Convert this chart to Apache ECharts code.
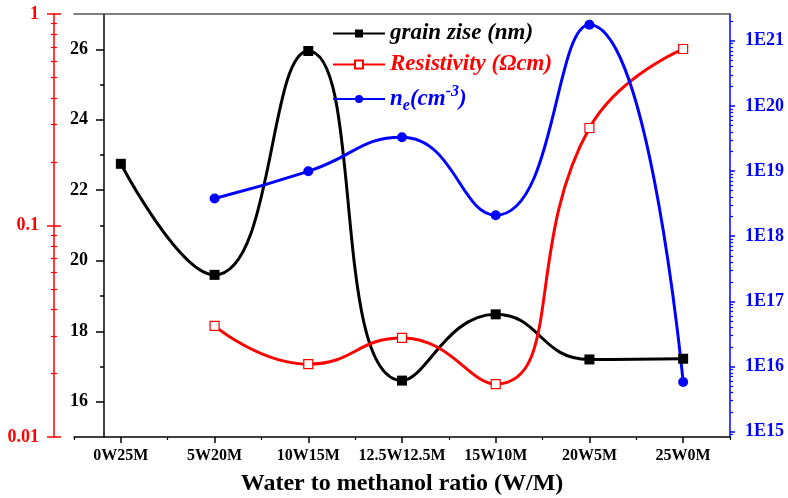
<!DOCTYPE html>
<html><head><meta charset="utf-8">
<script src="https://cdn.jsdelivr.net/npm/echarts@6/dist/echarts.min.js"></script>
<style>html,body{margin:0;padding:0;background:#fff}#c{width:788px;height:498px}</style>
</head><body><div id="c"></div>
<script>
const categories = ['0W25M','5W20M','10W15M','12.5W12.5M','15W10M','20W5M','25W0M'];
const grainSize = [22.75, 19.6, 25.95, 16.6, 18.48, 17.2, 17.22];
const resistivity = [null, 0.0335, 0.0221, 0.0294, 0.0178, 0.289, 0.683];
const carrierDensity = [null, 3.8e18, 9.9e18, 3.3e19, 2.1e18, 1.76e21, 5.8e15];
const grainTicks = [16, 18, 20, 22, 24, 26];
const grainMinorTicks = [17, 19, 21, 23, 25];
const resistivityTicks = [0.01, 0.1, 1];
const resistivityLabels = ['0.01', '0.1', '1'];
const densityTicks = [1e15, 1e16, 1e17, 1e18, 1e19, 1e20, 1e21];
const densityLabels = ['1E15', '1E16', '1E17', '1E18', '1E19', '1E20', '1E21'];
const seriesNames = ['grain zise (nm)', 'Resistivity (\u03A9cm)', 'ne'];

const F = "'Liberation Serif','Times New Roman',serif";
const densityMin = 8.3e14, densityMax = 2.57e21;
function minorOf(decades, lo, hi) {
  const out = [];
  decades.forEach(d => { for (let k = 2; k <= 9; k++) { const v = k * d; if (v > lo * 1.0001 && v < hi * 0.9999) out.push(v); } });
  return out;
}
const densityMinor = minorOf([1e14].concat(densityTicks), densityMin, densityMax);
const resistivityMinor = minorOf(resistivityTicks, 0.01, 1);

const chart = echarts.init(document.getElementById('c'), null, {renderer: 'canvas'});
const lab = {fontFamily: F, fontWeight: 'bold', fontSize: 18};
const LI = {fontFamily: F, fontWeight: 'bold', fontStyle: 'italic'};
function helperY(type, pos, offset, min, max, inside, len, values, color, width) {
  return {type: type, position: pos, offset: offset, min: min, max: max,
    axisLine: {show: false},
    axisTick: {show: true, inside: inside, length: len, customValues: values, lineStyle: {color: color, width: width}},
    axisLabel: {show: false}, splitLine: {show: false}};
}
chart.setOption({
  animation: false,
  backgroundColor: '#fff',
  grid: {left: 74, right: 58, top: 14, bottom: 61, containLabel: false, outerBoundsMode: 'none'},
  legend: {
    orient: 'vertical', left: 327, top: 17, itemWidth: 52, itemHeight: 10, itemGap: 8,
    data: seriesNames,
    formatter: function (name) {
      if (name === seriesNames[0]) return '{k|' + name + '}';
      if (name === seriesNames[1]) return '{r|' + name + '}';
      return '{b|n}{bs|e}{b|(cm}{bp|-3}{b|)}';
    },
    textStyle: Object.assign({fontSize: 23, rich: {
        k: Object.assign({fontSize: 23, color: '#000'}, LI),
        r: Object.assign({fontSize: 23, color: '#ff0000'}, LI),
        b: Object.assign({fontSize: 23, color: '#0000ff'}, LI),
        bs: Object.assign({fontSize: 16, color: '#0000ff', padding: [16, 0, 2, 0]}, LI),
        bp: Object.assign({fontSize: 16, color: '#0000ff', padding: [2, 0, 16, 0]}, LI)
      }}, LI)
  },
  xAxis: [
    {type: 'category', data: categories, position: 'bottom', boundaryGap: true,
      axisLine: {show: true, onZero: false, lineStyle: {color: '#000', width: 1.5}},
      axisTick: {show: true, alignWithLabel: true, interval: 0, length: 6, lineStyle: {color: '#000', width: 1.5}},
      axisLabel: {interval: 0, color: '#000', fontFamily: F, fontWeight: 'bold', fontSize: 16, margin: 11},
      splitLine: {show: false},
      name: 'Water to methanol ratio (W/M)', nameLocation: 'middle', nameGap: 35,
      nameTextStyle: {fontFamily: F, fontWeight: 'bold', fontSize: 24, color: '#000'}},
    {type: 'category', data: categories, position: 'bottom', boundaryGap: true,
      axisLine: {show: false}, axisTick: {show: true, interval: 0, length: 3, lineStyle: {color: '#000', width: 1.2}},
      axisLabel: {show: false}, splitLine: {show: false}},
    {type: 'category', data: categories, position: 'top', boundaryGap: true,
      axisLine: {show: true, onZero: false, lineStyle: {color: '#555', width: 1.5}},
      axisTick: {show: false}, axisLabel: {show: false}, splitLine: {show: false}}
  ],
  yAxis: [
    {type: 'value', position: 'left', offset: -30, min: 15, max: 27, interval: 1,
      axisLine: {show: true, onZero: false, lineStyle: {color: '#000', width: 1.5}},
      axisTick: {show: true, length: 8, customValues: grainTicks, lineStyle: {color: '#000', width: 1.5}},
      axisLabel: Object.assign({customValues: grainTicks, color: '#000', margin: 16}, lab),
      splitLine: {show: false}},
    Object.assign(helperY('value', 'left', -30, 15, 27, false, 4, grainMinorTicks, '#000', 1.5), {interval: 1}),
    {type: 'log', logBase: 10, position: 'left', offset: 20, min: 0.01, max: 1,
      axisLine: {show: true, onZero: false, lineStyle: {color: '#ff0000', width: 1.5}},
      axisTick: {show: true, length: 7, customValues: resistivityTicks, lineStyle: {color: '#ff0000', width: 1.5}},
      axisLabel: Object.assign({customValues: resistivityTicks, color: '#ff0000', margin: 15,
        formatter: v => resistivityLabels[resistivityTicks.findIndex(t => Math.abs(t - v) / t < 1e-6)] || ''}, lab),
      splitLine: {show: false}},
    helperY('log', 'left', 20, 0.01, 1, true, 7, resistivityTicks, '#ff0000', 1.5),
    helperY('log', 'left', 20, 0.01, 1, false, 3, resistivityMinor, '#ff0000', 1.2),
    helperY('log', 'left', 20, 0.01, 1, true, 3, resistivityMinor, '#ff0000', 1.2),
    {type: 'log', logBase: 10, position: 'right', offset: 0, min: densityMin, max: densityMax,
      axisLine: {show: true, onZero: false, lineStyle: {color: '#0000ff', width: 1.5}},
      axisTick: {show: true, length: 5, customValues: densityTicks, lineStyle: {color: '#0000ff', width: 1.5}},
      axisLabel: Object.assign({customValues: densityTicks, color: '#0000ff', margin: 15,
        formatter: v => densityLabels[densityTicks.findIndex(t => Math.abs(t - v) / t < 1e-6)] || ''}, lab),
      splitLine: {show: false}},
    helperY('log', 'right', 0, densityMin, densityMax, false, 3, densityMinor, '#0000ff', 1.2)
  ],
  series: [
    {name: seriesNames[0], type: 'line', xAxisIndex: 0, yAxisIndex: 0, data: grainSize, smooth: 0.5,
      symbol: 'rect', symbolSize: 10, lineStyle: {color: '#000', width: 3}, itemStyle: {color: '#000'}},
    {name: seriesNames[1], type: 'line', xAxisIndex: 0, yAxisIndex: 2, data: resistivity, smooth: 0.5,
      symbol: 'rect', symbolSize: 9, lineStyle: {color: '#ff0000', width: 3},
      itemStyle: {color: '#fff', borderColor: '#ff0000', borderWidth: 1.2}},
    {name: seriesNames[2], type: 'line', xAxisIndex: 0, yAxisIndex: 6, data: carrierDensity, smooth: 0.5,
      symbol: 'circle', symbolSize: 10, lineStyle: {color: '#0000ff', width: 3}, itemStyle: {color: '#0000ff'}}
  ]
});
</script></body></html>
